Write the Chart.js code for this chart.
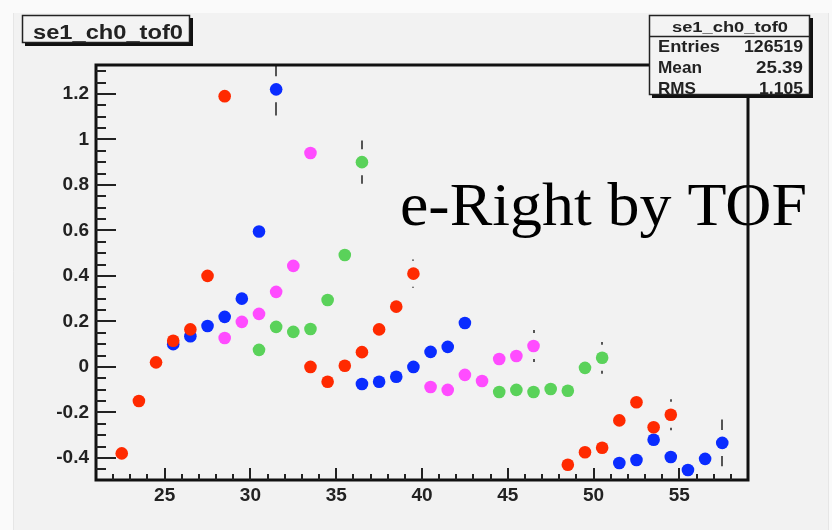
<!DOCTYPE html>
<html>
<head>
<meta charset="utf-8">
<script src="https://cdn.jsdelivr.net/npm/chart.js@4.4.0/dist/chart.umd.min.js"></script>
<style>
html,body{margin:0;padding:0;background:#fafafa;}
canvas{display:block;}
</style>
</head>
<body>
<canvas id="c" width="832" height="530"></canvas>
<script>
// ---- data ----
const xTickLabels = [25, 30, 35, 40, 45, 50, 55];
const yTickLabels = [-0.4, -0.2, 0, 0.2, 0.4, 0.6, 0.8, 1, 1.2];

const redX = [22.5,23.5,24.5,25.5,26.5,27.5,28.5,33.5,34.5,35.5,36.5,37.5,38.5,39.5,48.5,49.5,50.5,51.5,52.5,53.5,54.5];
const redY = [-0.38,-0.15,0.02,0.115,0.165,0.40,1.19,0.0,-0.065,0.005,0.065,0.165,0.265,0.41,-0.43,-0.375,-0.355,-0.235,-0.155,-0.265,-0.21];
const redE = [0.02,0.02,0.01,0.01,0.01,0.01,0.03,0.01,0.01,0.01,0.01,0.02,0.03,0.062,0.03,0.03,0.03,0.04,0.04,0.05,0.068];

const blueX = [25.5,26.5,27.5,28.5,29.5,30.5,31.5,36.5,37.5,38.5,39.5,40.5,41.5,42.5,51.5,52.5,53.5,54.5,55.5,56.5,57.5];
const blueY = [0.10,0.135,0.18,0.22,0.30,0.595,1.22,-0.075,-0.065,-0.043,0.0,0.066,0.088,0.193,-0.422,-0.409,-0.32,-0.396,-0.453,-0.404,-0.334];
const blueE = [0.01,0.01,0.01,0.02,0.02,0.04,0.115,0.01,0.01,0.01,0.01,0.02,0.02,0.03,0.04,0.04,0.05,0.05,0.05,0.05,0.103];

const magX = [28.5,29.5,30.5,31.5,32.5,33.5,40.5,41.5,42.5,43.5,44.5,45.5,46.5];
const magY = [0.127,0.198,0.233,0.33,0.444,0.94,-0.088,-0.101,-0.035,-0.062,0.035,0.048,0.092];
const magE = [0.01,0.01,0.02,0.02,0.03,0.05,0.01,0.01,0.02,0.02,0.03,0.04,0.07];

const greenX = [30.5,31.5,32.5,33.5,34.5,35.5,36.5,44.5,45.5,46.5,47.5,48.5,49.5,50.5];
const greenY = [0.075,0.176,0.154,0.167,0.294,0.492,0.90,-0.11,-0.101,-0.11,-0.097,-0.105,-0.004,0.04];
const greenE = [0.01,0.01,0.01,0.02,0.02,0.04,0.095,0.01,0.01,0.02,0.02,0.03,0.04,0.07];

const titleText = 'se1_ch0_tof0';
const statsNames = ['Entries', 'Mean', 'RMS'];
const statsValues = ['126519', '25.39', '1.105'];
const noteText = 'e-Right by TOF';

// ---- helpers ----
function pts(xs, ys){ return xs.map((x,i)=>({x:x, y:ys[i]})); }
function fitText(ctx, text, x, y, font, w, align){
  ctx.save();
  ctx.font = font;
  const m = ctx.measureText(text).width;
  const sx = w / m;
  ctx.textBaseline = 'alphabetic';
  ctx.textAlign = 'left';
  const left = align === 'right' ? x - w : (align === 'center' ? x - w/2 : x);
  ctx.translate(left, y);
  ctx.scale(sx, 1);
  ctx.fillText(text, 0, 0);
  ctx.restore();
}

const errSets = [redE, blueE, magE, greenE];
const GAP = 13;

const rootPlugin = {
  id: 'rootStyle',
  beforeDraw(chart){
    const ctx = chart.ctx;
    ctx.save();
    ctx.fillStyle = '#fafafa';
    ctx.fillRect(0,0,832,530);
    ctx.fillStyle = '#f2f2f2';
    ctx.fillRect(13,13,816,517);
    ctx.strokeStyle = '#e6e6e6';
    ctx.lineWidth = 1;
    ctx.beginPath();
    ctx.moveTo(13.5,13); ctx.lineTo(13.5,530);
    ctx.moveTo(828.5,13); ctx.lineTo(828.5,530);
    ctx.stroke();
    ctx.restore();
  },
  beforeDatasetsDraw(chart){
    const ctx = chart.ctx, xs = chart.scales.x, ys = chart.scales.y, a = chart.chartArea;
    ctx.save();
    ctx.beginPath();
    ctx.rect(a.left, a.top, a.right-a.left, a.bottom-a.top);
    ctx.clip();
    ctx.strokeStyle = '#555';
    ctx.lineWidth = 2;
    chart.data.datasets.forEach((ds, i) => {
      const errs = errSets[i];
      ds.data.forEach((p, j) => {
        const px = Math.round(xs.getPixelForValue(p.x));
        const py = ys.getPixelForValue(p.y);
        const top = ys.getPixelForValue(p.y + errs[j]);
        const bot = ys.getPixelForValue(p.y - errs[j]);
        ctx.beginPath();
        if (py - top > GAP){ ctx.moveTo(px, py-GAP); ctx.lineTo(px, top); }
        if (bot - py > GAP){ ctx.moveTo(px, py+GAP); ctx.lineTo(px, bot); }
        ctx.stroke();
      });
    });
    ctx.restore();
  },
  afterDraw(chart){
    const ctx = chart.ctx, xs = chart.scales.x, ys = chart.scales.y, a = chart.chartArea;
    ctx.save();
    // annotation text
    ctx.fillStyle = '#000';
    fitText(ctx, noteText, 400, 225, '62px "Liberation Serif", "Times New Roman", serif', 407, 'left');

    // frame
    ctx.strokeStyle = '#111';
    ctx.lineWidth = 3;
    ctx.strokeRect(a.left, a.top, a.right-a.left, a.bottom-a.top);

    // ticks
    ctx.lineWidth = 2;
    ctx.strokeStyle = '#222';
    ctx.beginPath();
    for (let k = -10; k <= 26; k++){
      const v = k * 0.05;
      const py = Math.round(ys.getPixelForValue(v)) + 0.0;
      if (py < a.top + 2 || py > a.bottom - 2) continue;
      const major = (k % 4 === 0);
      ctx.moveTo(a.left, py);
      ctx.lineTo(a.left + (major ? 20 : 10), py);
    }
    for (let v = 22; v <= 58; v++){
      const px = Math.round(xs.getPixelForValue(v));
      const major = (v % 5 === 0);
      ctx.moveTo(px, a.bottom);
      ctx.lineTo(px, a.bottom - (major ? 12 : 6));
    }
    ctx.stroke();

    // title box
    ctx.fillStyle = '#111';
    ctx.fillRect(25, 18, 168, 28);
    ctx.fillStyle = '#f3f3f3';
    ctx.fillRect(22, 15, 168, 28);
    ctx.strokeStyle = '#222';
    ctx.lineWidth = 1.5;
    ctx.strokeRect(22.5, 15.5, 167, 27);
    ctx.fillStyle = '#222';
    fitText(ctx, titleText, 33, 39, 'bold 20px "Liberation Sans", Arial, sans-serif', 150, 'left');

    // stats box
    ctx.fillStyle = '#111';
    ctx.fillRect(652, 18, 161, 80);
    ctx.fillStyle = '#f3f3f3';
    ctx.fillRect(649, 15, 161, 80);
    ctx.strokeStyle = '#222';
    ctx.lineWidth = 1.5;
    ctx.strokeRect(649.5, 15.5, 160, 79);
    ctx.beginPath();
    ctx.moveTo(649, 36.5); ctx.lineTo(810, 36.5);
    ctx.stroke();
    ctx.fillStyle = '#222';
    fitText(ctx, titleText, 730, 32, 'bold 14px "Liberation Sans", Arial, sans-serif', 116, 'center');
    const baselines = [52, 73, 94];
    const nameW = [62, 44, 38];
    const valW = [59, 47, 44];
    statsNames.forEach((n, i) => {
      fitText(ctx, n, 658, baselines[i], 'bold 17px "Liberation Sans", Arial, sans-serif', nameW[i], 'left');
      fitText(ctx, statsValues[i], 803, baselines[i], 'bold 17px "Liberation Sans", Arial, sans-serif', valW[i], 'right');
    });
    ctx.restore();
  }
};

const tickFont = {family: '"Liberation Sans", Arial, sans-serif', weight: 'bold', size: 19};

new Chart(document.getElementById('c'), {
  type: 'scatter',
  data: {
    datasets: [
      {data: pts(redX, redY), backgroundColor: '#ff2a00'},
      {data: pts(blueX, blueY), backgroundColor: '#0a2cff'},
      {data: pts(magX, magY), backgroundColor: '#ff4cff'},
      {data: pts(greenX, greenY), backgroundColor: '#5ad25a'}
    ].map(d => Object.assign(d, {pointRadius: 6.3, pointHoverRadius: 6.3, borderWidth: 0, pointBorderWidth: 0, clip: false}))
  },
  options: {
    responsive: false,
    devicePixelRatio: 1,
    animation: false,
    layout: {padding: {top: 65, right: 84, left: 0, bottom: 0}},
    plugins: {legend: {display: false}, tooltip: {enabled: false}},
    events: [],
    scales: {
      x: {
        type: 'linear', min: 21, max: 59,
        grid: {display: false, drawTicks: false},
        border: {display: false},
        afterBuildTicks: s => { s.ticks = xTickLabels.map(v => ({value: v})); },
        afterFit: s => { s.height = 50; },
        ticks: {font: tickFont, color: '#222', padding: 4, maxRotation: 0, autoSkip: false, callback: v => String(v)}
      },
      y: {
        type: 'linear', min: -0.497, max: 1.327,
        grid: {display: false, drawTicks: false},
        border: {display: false},
        afterBuildTicks: s => { s.ticks = yTickLabels.map(v => ({value: v})); },
        afterFit: s => { s.width = 96; },
        ticks: {font: tickFont, color: '#222', padding: 7, autoSkip: false, callback: v => String(Math.round(v*10)/10)}
      }
    }
  },
  plugins: [rootPlugin]
});
</script>
</body>
</html>
